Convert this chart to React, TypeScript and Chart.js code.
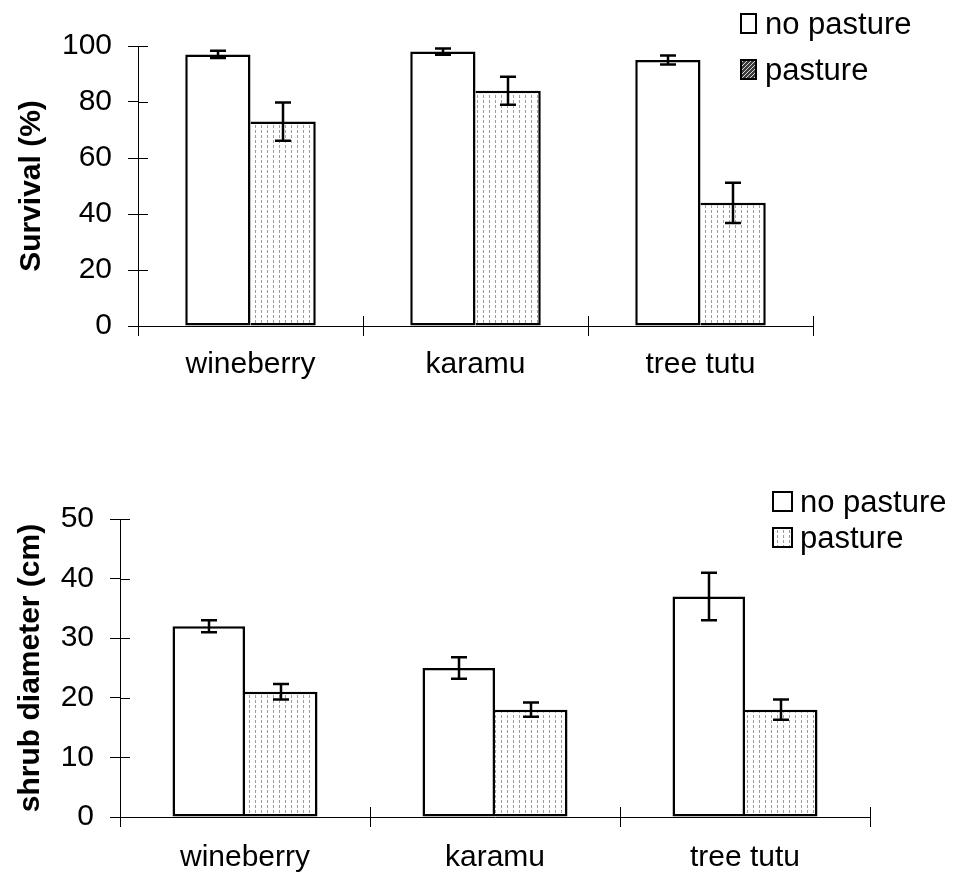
import React, { useEffect, useRef } from "react";
import { Chart, registerables } from "chart.js";

Chart.register(...registerables);

// Shared categories and series names
const species = ["wineberry", "karamu", "tree tutu"];
const seriesNames = ["no pasture", "pasture"];

// Upper panel: seedling survival (%)
const survivalNoPasture = [97, 98, 95];
const survivalNoPastureErr = [1.3, 1.1, 1.6];
const survivalPasture = [73, 84, 44];
const survivalPastureErr = [6.8, 5, 7.2];
const survivalMax = 100;
const survivalStep = 20;

// Lower panel: shrub diameter (cm)
const diameterNoPasture = [32, 25, 37];
const diameterNoPastureErr = [1, 1.8, 4];
const diameterPasture = [21, 18, 18];
const diameterPastureErr = [1.3, 1.2, 1.7];
const diameterMax = 50;
const diameterStep = 10;

const FONT = "'Liberation Sans', Arial, Helvetica, sans-serif";

// White fill with thin grey vertical dashed lines
function dashPattern(ctx: CanvasRenderingContext2D) {
  const c = document.createElement("canvas");
  c.width = 6;
  c.height = 5;
  const g = c.getContext("2d")!;
  g.fillStyle = "#ffffff";
  g.fillRect(0, 0, 6, 5);
  g.fillStyle = "#9c9c9c";
  g.fillRect(3, 0, 1, 3);
  return ctx.createPattern(c, "repeat")!;
}

// Dark diagonal hatch used by the upper legend swatch
function hatchPattern(ctx: CanvasRenderingContext2D) {
  const c = document.createElement("canvas");
  c.width = 4;
  c.height = 4;
  const g = c.getContext("2d")!;
  g.fillStyle = "#3a3a3a";
  g.fillRect(0, 0, 4, 4);
  g.fillStyle = "#d8d8d8";
  for (let i = 0; i < 4; i++) g.fillRect(3 - i, i, 1, 1);
  return ctx.createPattern(c, "repeat")!;
}

// Error bars drawn from each dataset's "errors" array
const errorBarPlugin = {
  id: "errorBars",
  afterDatasetsDraw(chart: any) {
    const { ctx } = chart;
    const yScale = chart.scales.y;
    ctx.save();
    ctx.strokeStyle = "#000";
    ctx.lineWidth = 2.5;
    chart.data.datasets.forEach((ds: any, di: number) => {
      const meta = chart.getDatasetMeta(di);
      meta.data.forEach((bar: any, i: number) => {
        const v = ds.data[i];
        const e = ds.errors[i];
        const x = Math.round(bar.x);
        const yHi = yScale.getPixelForValue(v + e);
        const yLo = yScale.getPixelForValue(v - e);
        const cap = 8;
        ctx.beginPath();
        ctx.moveTo(x, yHi);
        ctx.lineTo(x, yLo);
        ctx.moveTo(x - cap, yHi);
        ctx.lineTo(x + cap, yHi);
        ctx.moveTo(x - cap, yLo);
        ctx.lineTo(x + cap, yLo);
        ctx.stroke();
      });
    });
    ctx.restore();
  },
};

// Tick marks that cross both axes (inner half; outer half comes from the grid)
const crossTickPlugin = {
  id: "crossTicks",
  afterDraw(chart: any) {
    const { ctx, chartArea } = chart;
    const x = chart.scales.x;
    const y = chart.scales.y;
    const len = 10;
    ctx.save();
    ctx.strokeStyle = "#000";
    ctx.lineWidth = 1;
    ctx.beginPath();
    y.ticks.forEach((t: any) => {
      const py = Math.round(y.getPixelForValue(t.value)) + 0.5;
      ctx.moveTo(chartArea.left, py);
      ctx.lineTo(chartArea.left + len, py);
    });
    const n = chart.data.labels.length;
    const w = (x.right - x.left) / n;
    for (let i = 0; i <= n; i++) {
      const px = Math.round(x.left + i * w) + 0.5;
      ctx.moveTo(px, chartArea.bottom);
      ctx.lineTo(px, chartArea.bottom - len);
    }
    ctx.stroke();
    ctx.restore();
  },
};

type LegendSpec = {
  boxX: number;
  boxW: number;
  boxH: number;
  textX: number;
  baselines: number[];
  fills: (ctx: CanvasRenderingContext2D) => (string | CanvasPattern)[];
};

function makeLegendPlugin(spec: LegendSpec) {
  return {
    id: "boxLegend",
    afterDraw(chart: any) {
      const { ctx } = chart;
      const fills = spec.fills(ctx);
      ctx.save();
      chart.data.datasets.forEach((ds: any, i: number) => {
        const base = spec.baselines[i];
        const top = base - spec.boxH;
        ctx.fillStyle = fills[i];
        ctx.fillRect(spec.boxX, top, spec.boxW, spec.boxH);
        ctx.strokeStyle = "#000";
        ctx.lineWidth = 2;
        ctx.strokeRect(spec.boxX + 1, top + 1, spec.boxW - 2, spec.boxH - 2);
        ctx.fillStyle = "#000";
        ctx.font = `31px ${FONT}`;
        ctx.textAlign = "left";
        ctx.textBaseline = "alphabetic";
        ctx.fillText(ds.label, spec.textX, base);
      });
      ctx.restore();
    },
  };
}

type PanelSpec = {
  noPasture: number[];
  noPastureErr: number[];
  pasture: number[];
  pastureErr: number[];
  max: number;
  step: number;
  title: string;
  yWidth: number;
  xHeight: number;
  padding: { top: number; right: number; bottom: number; left: number };
  titlePad: number;
  tickPad: number;
  legend: LegendSpec;
};

function buildChart(canvas: HTMLCanvasElement, p: PanelSpec) {
  const ctx = canvas.getContext("2d")!;
  const dots = dashPattern(ctx);
  return new Chart(canvas, {
    type: "bar",
    data: {
      labels: species,
      datasets: [
        {
          label: seriesNames[0],
          data: p.noPasture,
          errors: p.noPastureErr,
          backgroundColor: "#ffffff",
          borderColor: "#000000",
          borderWidth: 2.5,
          borderSkipped: false,
        } as any,
        {
          label: seriesNames[1],
          data: p.pasture,
          errors: p.pastureErr,
          backgroundColor: dots,
          borderColor: "#000000",
          borderWidth: { top: 2.5, right: 2.5, bottom: 2.5, left: 0 },
          borderSkipped: false,
        } as any,
      ],
    },
    options: {
      responsive: false,
      animation: false,
      devicePixelRatio: 1,
      layout: { padding: p.padding },
      datasets: { bar: { categoryPercentage: 0.58, barPercentage: 1 } },
      plugins: {
        legend: { display: false },
        tooltip: { enabled: false },
      },
      scales: {
        x: {
          grid: {
            display: true,
            drawOnChartArea: false,
            drawTicks: true,
            tickLength: 10,
            color: "#000",
            lineWidth: 1,
            offset: true,
          },
          border: { display: true, color: "#000", width: 1 },
          ticks: { color: "#000", font: { size: 30, family: FONT }, padding: p.tickPad },
          afterFit: (s: any) => {
            s.height = p.xHeight;
          },
        },
        y: {
          min: 0,
          max: p.max,
          ticks: {
            stepSize: p.step,
            color: "#000",
            padding: 16,
            font: { size: 30, family: FONT },
          },
          grid: {
            display: true,
            drawOnChartArea: false,
            drawTicks: true,
            tickLength: 10,
            color: "#000",
            lineWidth: 1,
          },
          border: { display: true, color: "#000", width: 1 },
          title: {
            display: true,
            text: p.title,
            color: "#000",
            font: { size: 30, weight: "bold", family: FONT },
            padding: { top: p.titlePad, bottom: 0 },
          },
          afterFit: (s: any) => {
            s.width = p.yWidth;
          },
        },
      },
    },
    plugins: [errorBarPlugin, crossTickPlugin, makeLegendPlugin(p.legend)],
  } as any);
}

export default function App() {
  const topRef = useRef<HTMLCanvasElement>(null);
  const bottomRef = useRef<HTMLCanvasElement>(null);

  useEffect(() => {
    const top = buildChart(topRef.current!, {
      noPasture: survivalNoPasture,
      noPastureErr: survivalNoPastureErr,
      pasture: survivalPasture,
      pastureErr: survivalPastureErr,
      max: survivalMax,
      step: survivalStep,
      title: "Survival (%)",
      yWidth: 138,
      xHeight: 70,
      padding: { top: 46, right: 140, bottom: 44, left: 0 },
      titlePad: 14,
      tickPad: 11,
      legend: {
        boxX: 740,
        boxW: 17,
        boxH: 21,
        textX: 765,
        baselines: [34, 80],
        fills: (ctx) => ["#ffffff", hatchPattern(ctx)],
      },
    });
    const bottom = buildChart(bottomRef.current!, {
      noPasture: diameterNoPasture,
      noPastureErr: diameterNoPastureErr,
      pasture: diameterPasture,
      pastureErr: diameterPastureErr,
      max: diameterMax,
      step: diameterStep,
      title: "shrub diameter (cm)",
      yWidth: 120,
      xHeight: 62,
      padding: { top: 79, right: 83, bottom: 0, left: 0 },
      titlePad: 13,
      tickPad: 13,
      legend: {
        boxX: 772,
        boxW: 21,
        boxH: 21,
        textX: 800,
        baselines: [72, 108],
        fills: (ctx) => ["#ffffff", dashPattern(ctx)],
      },
    });
    return () => {
      top.destroy();
      bottom.destroy();
    };
  }, []);

  return (
    <div
      style={{
        position: "absolute",
        left: 0,
        top: 0,
        width: 953,
        height: 879,
        background: "#ffffff",
      }}
    >
      <canvas
        ref={topRef}
        width={953}
        height={440}
        style={{ position: "absolute", left: 0, top: 0, width: 953, height: 440 }}
      />
      <canvas
        ref={bottomRef}
        width={953}
        height={439}
        style={{ position: "absolute", left: 0, top: 440, width: 953, height: 439 }}
      />
    </div>
  );
}
